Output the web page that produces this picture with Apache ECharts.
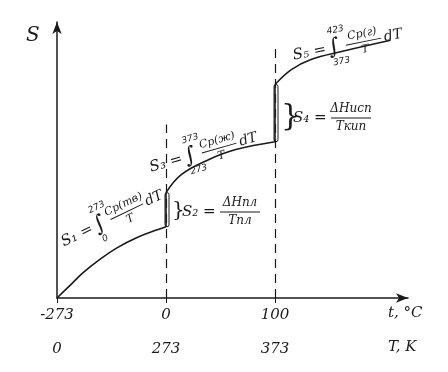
<!DOCTYPE html>
<html><head><meta charset="utf-8">
<script src="https://cdn.jsdelivr.net/npm/echarts@6/dist/echarts.min.js"></script>
<style>html,body{margin:0;padding:0;background:#fff}#c{width:448px;height:372px}</style>
</head><body><div id="c"></div>
<script>
// schematic x positions (0 = -273 °C, 1 = 0 °C, 2 = 100 °C)
const tickPos = [0, 1, 2];
const tickCelsius = ['-273', '0', '100'];
const tickKelvin = ['0', '273', '373'];
// entropy curve segments (arbitrary units)
const solidX = [0, 0.12, 0.24, 0.39, 0.55, 0.73, 0.92, 1.0];
const solidS = [0, 4.5, 9.0, 13.6, 17.8, 21.4, 24.2, 25.3];
const liquidX = [1.0, 1.14, 1.39, 1.64, 2.0];
const liquidS = [37.4, 43.8, 49.1, 52.7, 55.5];
const gasX = [2.0, 2.15, 2.33, 2.61, 3.06];
const gasS = [75.8, 81.1, 84.7, 87.5, 91.5];
// dashed guide lines: [x, top S]
const guideX = [1, 2];
const guideTop = [61.6, 90];
// jumps at phase transitions
const jumpX = [1, 2];
const jumpLow = [25.3, 55.5];
const jumpHigh = [37.4, 75.8];

const ink = '#1a1a1a';
const hand = 'italic 15px "DejaVu Serif"';

const chart = echarts.init(document.getElementById('c'), null, {renderer: 'canvas'});

function formula(x, y, rot, name, top, bottom, num) {
  return {
    type: 'group', x: x, y: y, rotation: rot,
    children: [
      {type: 'text', x: 0, y: 0, style: {text: name + ' =', font: 'italic 15px "DejaVu Serif"', fill: ink, verticalAlign: 'middle'}},
      {type: 'text', x: 36, y: 0, style: {text: '∫', font: '22px "DejaVu Serif"', fill: ink, verticalAlign: 'middle'}},
      {type: 'text', x: 38, y: -17, style: {text: top, font: 'italic 9px "DejaVu Sans"', fill: ink, verticalAlign: 'middle'}},
      {type: 'text', x: 38, y: 15, style: {text: bottom, font: 'italic 9px "DejaVu Sans"', fill: ink, verticalAlign: 'middle'}},
      {type: 'text', x: 72, y: -8, style: {text: num, font: 'italic 11px "DejaVu Serif"', fill: ink, align: 'center', verticalAlign: 'middle'}},
      {type: 'line', shape: {x1: 54, y1: 0, x2: 90, y2: 0}, style: {stroke: ink, lineWidth: 1}},
      {type: 'text', x: 72, y: 8, style: {text: 'T', font: 'italic 11px "DejaVu Serif"', fill: ink, align: 'center', verticalAlign: 'middle'}},
      {type: 'text', x: 93, y: 0, style: {text: 'dT', font: 'italic 14px "DejaVu Serif"', fill: ink, verticalAlign: 'middle'}}
    ]
  };
}
function ratio(x, y, name, num, den) {
  return {
    type: 'group', x: x, y: y,
    children: [
      {type: 'text', x: 0, y: 0, style: {text: name + ' =', font: 'italic 15px "DejaVu Serif"', fill: ink, verticalAlign: 'middle'}},
      {type: 'text', x: 58, y: -9, style: {text: num, font: 'italic 12px "DejaVu Serif"', fill: ink, align: 'center', verticalAlign: 'middle'}},
      {type: 'line', shape: {x1: 38, y1: 0, x2: 78, y2: 0}, style: {stroke: ink, lineWidth: 1}},
      {type: 'text', x: 58, y: 9, style: {text: den, font: 'italic 12px "DejaVu Serif"', fill: ink, align: 'center', verticalAlign: 'middle'}}
    ]
  };
}

const guideLines = guideX.map((gx, i) => [{coord: [gx, 0]}, {coord: [gx, guideTop[i]]}]);
const seg = (xs, ss) => xs.map((x, i) => [x, ss[i]]);
const curveStyle = {color: ink, width: 1.6};

chart.setOption({
  animation: false,
  backgroundColor: '#fff',
  grid: {left: 57, right: 40, top: 22, bottom: 74},
  xAxis: [{
    type: 'value', min: 0, max: 3.22, interval: 1,
    axisLine: {show: true, lineStyle: {color: ink, width: 1.5}, symbol: ['none', 'arrow'], symbolSize: [7, 12]},
    axisTick: {show: true, length: 5, lineStyle: {color: ink}, customValues: tickPos},
    splitLine: {show: false},
    axisLabel: {margin: 10, color: ink, fontSize: 15, fontFamily: 'DejaVu Serif', fontStyle: 'italic', customValues: tickPos,
      formatter: v => { const i = tickPos.indexOf(Math.round(v * 100) / 100); return i >= 0 ? tickCelsius[i] : ''; }}
  }, {
    type: 'value', min: 0, max: 3.22, interval: 1, position: 'bottom',
    axisLine: {show: false}, axisTick: {show: false}, splitLine: {show: false},
    axisLabel: {margin: 44, color: ink, fontSize: 15, fontFamily: 'DejaVu Serif', fontStyle: 'italic', customValues: tickPos,
      formatter: v => { const i = tickPos.indexOf(Math.round(v * 100) / 100); return i >= 0 ? tickKelvin[i] : ''; }}
  }],
  yAxis: {
    type: 'value', min: 0, max: 98,
    axisLine: {show: true, lineStyle: {color: ink, width: 1.5}, symbol: ['none', 'arrow'], symbolSize: [7, 12]},
    axisTick: {show: false}, axisLabel: {show: false}, splitLine: {show: false}
  },
  series: [
    {type: 'line', data: seg(solidX, solidS), smooth: 0.4, showSymbol: false, lineStyle: curveStyle,
      markLine: {symbol: ['none', 'none'], silent: true, label: {show: false},
        lineStyle: {color: ink, type: [9, 6], width: 1.2}, data: guideLines}},
    {type: 'line', data: seg(liquidX, liquidS), smooth: 0.4, showSymbol: false, lineStyle: curveStyle},
    {type: 'line', data: seg(gasX, gasS), smooth: 0.4, showSymbol: false, lineStyle: curveStyle},
    {type: 'line', data: [[jumpX[0], jumpLow[0]], [jumpX[0], jumpHigh[0]]], showSymbol: false, lineStyle: curveStyle},
    {type: 'line', data: [[jumpX[1], jumpLow[1]], [jumpX[1], jumpHigh[1]]], showSymbol: false, lineStyle: curveStyle}
  ]
});

// narrow outline around the vertical jumps
const outlines = jumpX.map((jx, i) => {
  const a = chart.convertToPixel({gridIndex: 0}, [jx, jumpLow[i]]);
  const b = chart.convertToPixel({gridIndex: 0}, [jx, jumpHigh[i]]);
  return {type: 'rect', shape: {x: a[0] - 1, y: b[1], width: 4, height: a[1] - b[1], r: 2},
    style: {fill: 'none', stroke: ink, lineWidth: 1}};
});

chart.setOption({graphic: [
  {type: 'text', x: 26, y: 26, style: {text: 'S', font: 'italic 20px "DejaVu Serif"', fill: ink}},
  {type: 'text', x: 388, y: 306, style: {text: 't, °C', font: hand, fill: ink}},
  {type: 'text', x: 388, y: 340, style: {text: 'T, K', font: hand, fill: ink}},
  formula(62, 243, 0.45, 'S₁', '273', '0', 'Cp(тв)'),
  formula(150, 168, 0.28, 'S₃', '373', '273', 'Cp(ж)'),
  formula(293, 56, 0.2, 'S₅', '423', '373', 'Cp(г)'),
  {type: 'text', x: 172, y: 211, style: {text: '}', font: '20px "DejaVu Serif"', fill: ink, verticalAlign: 'middle'}},
  ratio(182, 212, 'S₂', 'ΔHпл', 'Tпл'),
  {type: 'text', x: 281, y: 117, style: {text: '}', font: '30px "DejaVu Serif"', fill: ink, verticalAlign: 'middle'}},
  ratio(293, 118, 'S₄', 'ΔHисп', 'Tкип')
].concat(outlines)});
</script></body></html>
